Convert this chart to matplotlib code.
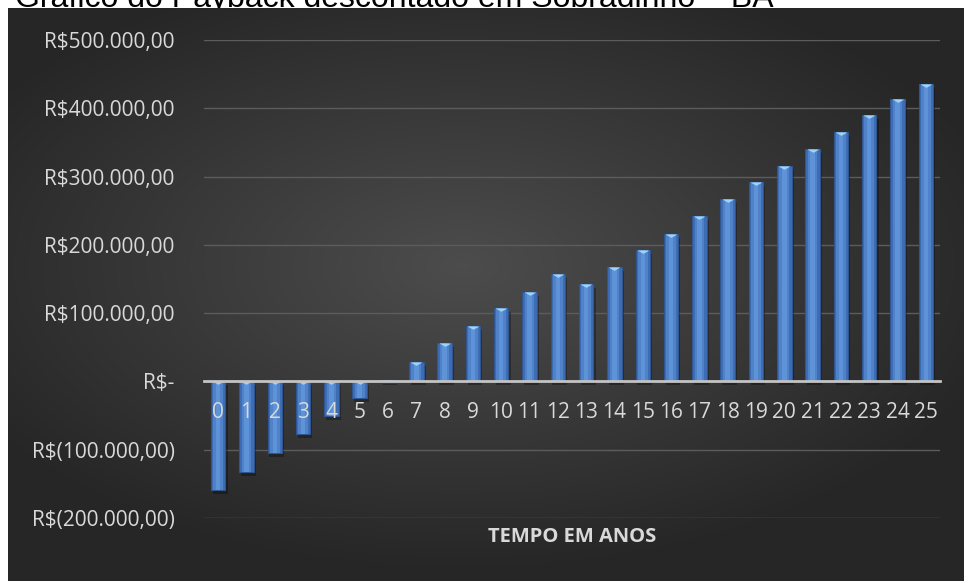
import numpy as np
import matplotlib.pyplot as plt
from matplotlib.path import Path
from matplotlib.markers import MarkerStyle
import matplotlib.transforms as mtransforms

# fluxo de caixa descontado acumulado (R$) por ano
anos = list(range(26))
saldo = [-159000, -132000, -105500, -77000, -51000, -24000, 1500,
         28000, 56000, 81000, 107000, 131000, 158000, 142000, 167000,
         192000, 216500, 242000, 267500, 291500, 315000, 340500,
         365000, 390000, 413000, 436000]
y_ticks = [-200000, -100000, 0, 100000, 200000, 300000, 400000, 500000]
y_labels = ['R$(200.000,00)', 'R$(100.000,00)', 'R$-', 'R$100.000,00',
            'R$200.000,00', 'R$300.000,00', 'R$400.000,00', 'R$500.000,00']
titulo = 'Gráfico do Payback descontado em Sobradinho – BA'

W, H = 964, 581
fig = plt.figure(figsize=(W / 100, H / 100), dpi=100)
fig.patch.set_facecolor('white')

# titulo (fica parcialmente coberto pelo painel escuro)
fig.text(15 / W, 1 - 6.5 / H, titulo, ha='left', va='baseline',
         fontsize=23, family='Liberation Sans', color='black', zorder=-1)

# painel de fundo com gradiente radial
bg = fig.add_axes([8 / W, 0, (W - 8) / W, (H - 8) / H], zorder=0)
gx, gy = np.meshgrid(np.linspace(-1, 1, 400), np.linspace(-1, 1, 240))
r = np.sqrt(((gx + 0.05) / 1.1) ** 2 + ((gy + 0.1) / 1.0) ** 2)
shade = np.clip(0.30 - 0.14 * r, 0.15, 0.30)
bg.imshow(np.dstack([shade] * 3), aspect='auto', extent=(0, 1, 0, 1),
          interpolation='bicubic')
bg.set_axis_off()

ax = fig.add_axes([204 / W, 1 - 518 / H, 736 / W, 478 / H], zorder=1)
ax.patch.set_alpha(0)
ax.set_xlim(-0.5, 25.5)
ax.set_ylim(-200000, 500000)

# grade horizontal
for t in y_ticks:
    if t != 0:
        ax.axhline(t, color='#5c5c5c', lw=1, zorder=1)

# sombra das barras
sombra = ax.bar(anos, saldo, width=0.52, color='black', alpha=0.3, zorder=2)
off = mtransforms.ScaledTranslation(2 / 100, -4 / 100, fig.dpi_scale_trans)
for p in sombra:
    p.set_transform(ax.transData + off)

# barras com brilho central
ax.bar(anos, saldo, width=0.51, color='#3d6db4', edgecolor='#2f5690',
       linewidth=0.8, zorder=3)
ax.bar(anos, saldo, width=0.34, color='#4f82c8', linewidth=0, zorder=4)
ax.bar(anos, saldo, width=0.16, color='#5e93d8', linewidth=0, zorder=5)

# bisel triangular no topo de cada barra
tri = Path([(-1, 0), (1, 0), (0, -0.55), (-1, 0)],
           [Path.MOVETO, Path.LINETO, Path.LINETO, Path.CLOSEPOLY])
topo = [max(v, 0) for v in saldo]
vis = [i for i, v in enumerate(saldo) if abs(v) > 5000]
ax.scatter([anos[i] for i in vis], [topo[i] for i in vis],
           marker=MarkerStyle(tri), s=75, color='#9fd3f7', linewidths=0,
           zorder=6)

ax.set_yticks(y_ticks)
ax.set_yticklabels(y_labels)
ax.set_xticks(anos)
ax.set_xticklabels([str(a) for a in anos])

for s in ['top', 'right', 'left']:
    ax.spines[s].set_visible(False)
ax.spines['bottom'].set_position(('data', 0))
ax.spines['bottom'].set_color('#c4c4c4')
ax.spines['bottom'].set_linewidth(2)
ax.spines['bottom'].set_zorder(7)
ax.xaxis.set_zorder(10)

ax.tick_params(axis='both', length=0, colors='#d9d9d9')
ax.tick_params(axis='y', pad=21, labelsize=15)
ax.tick_params(axis='x', pad=15, labelsize=15)
for lab in ax.get_xticklabels() + ax.get_yticklabels():
    lab.set_family('Open Sans')

fig.text(572 / W, 1 - 537 / H, 'TEMPO EM ANOS', ha='center', va='center',
         fontsize=14.5, fontweight='bold', family='Open Sans',
         color='#d9d9d9', zorder=5)

fig.savefig('out.png', dpi=100, facecolor='white')
